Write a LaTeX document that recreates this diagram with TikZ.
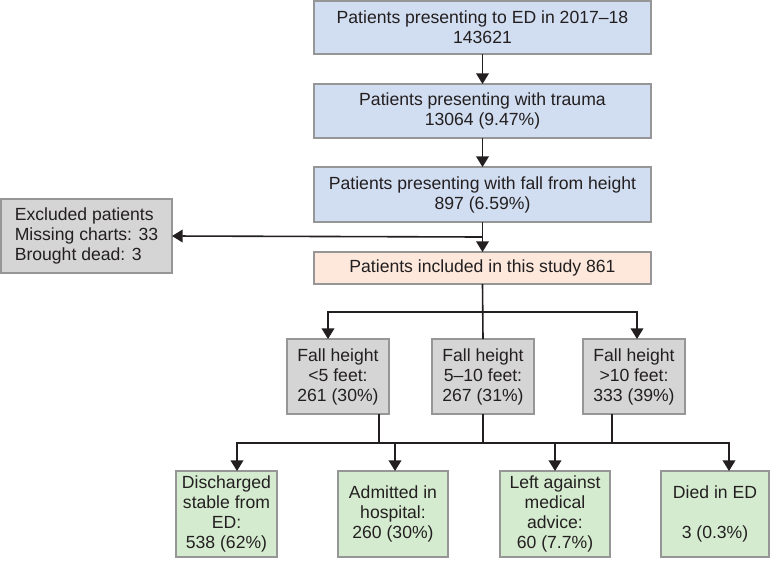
\documentclass[tikz,border=0pt]{standalone}
\usepackage{fontspec}
\setmainfont{Liberation Sans}
\usetikzlibrary{arrows.meta}
\definecolor{bluefill}{HTML}{D1DDF0}
\definecolor{peach}{HTML}{FDE8DB}
\definecolor{greyfill}{HTML}{D5D5D5}
\definecolor{greenfill}{HTML}{D5EBD0}
\definecolor{edgegray}{HTML}{969696}
\definecolor{ink}{HTML}{231F20}
\tikzset{
  bx/.style 2 args={minimum width=#1*0.75pt, minimum height=#2*0.75pt},
  box/.style={draw=edgegray, line width=1.1pt, inner sep=0pt, outer sep=0pt,
    align=center, text=ink, font=\fontsize{13.2}{15}\selectfont},
  bluebox/.style={box, fill=bluefill},
  peachbox/.style={box, fill=peach},
  greybox/.style={box, fill=greyfill},
  greenbox/.style={box, fill=greenfill},
  conn/.style={draw=ink, line width=1.2pt},
  arr/.style={conn, -{Triangle[length=8pt,width=9.5pt]}}
}
\begin{document}
\begin{tikzpicture}[x=0.75pt,y=-0.75pt]
\useasboundingbox (0,0) rectangle (770,561);
\fill[white] (0,0) rectangle (770,561);

\node[bluebox, bx={337}{53}] (b1) at (482.5,27.5) {Patients presenting to ED in 2017–18\\143621};
\node[bluebox, bx={337}{54}] (b2) at (482.5,111) {Patients presenting with trauma\\13064 (9.47\%)};
\node[bluebox, bx={337}{55}] (b3) at (482.5,194.5) {Patients presenting with fall from height\\897 (6.59\%)};
\node[greybox, bx={171}{74}, align=left] (excl) at (86.5,236) {Excluded patients\\Missing charts: 33\\Brought dead: 3};
\node[peachbox, bx={337}{32}] (incl) at (482.5,268) {Patients included in this study 861};

\node[greybox, bx={102}{75}] (fA) at (338,376.5) {Fall height\\<5 feet:\\261 (30\%)};
\node[greybox, bx={102}{75}] (fB) at (483,376.5) {Fall height\\5–10 feet:\\267 (31\%)};
\node[greybox, bx={102}{75}] (fC) at (634,376.5) {Fall height\\>10 feet:\\333 (39\%)};

\node[greenbox, bx={101}{86}] (g1) at (226.5,514) {Discharged\\stable from\\ED:\\538 (62\%)};
\node[greenbox, bx={110}{86}] (g2) at (393,514) {Admitted in\\hospital:\\260 (30\%)};
\node[greenbox, bx={110}{86}] (g3) at (555,514) {Left against\\medical\\advice:\\60 (7.7\%)};
\node[greenbox, bx={108}{86}] (g4) at (715,514) {Died in ED\\[15pt]3 (0.3\%)};

\draw[arr] (b1) -- (b2);
\draw[arr] (b2) -- (b3);
\draw[arr] (b3) -- (incl);
\coordinate (j1) at (482.5,237);
\draw[arr] (j1) -- (excl.east);

\coordinate (s1) at (483,312);
\draw[conn] (incl.south) -- (fB.north);
\draw[arr] (s1) -| ([xshift=-7.5pt]fA.north);
\draw[arr] (s1) -| ([xshift=2.25pt]fC.north);

\coordinate (h1) at (483,443);
\draw[conn] (fB.south) -- (h1);
\draw[conn] ([xshift=30.75pt]fA.south) |- (h1);
\draw[conn] ([xshift=-16.5pt]fC.south) |- (h1);
\draw[arr] (h1) -| ([xshift=7.875pt]g1.north);
\draw[arr] (h1) -| ([xshift=1.5pt]g2.north);
\draw[arr] (h1) -| (g3.north);
\draw[arr] (h1) -| ([xshift=10.5pt]g4.north);
\end{tikzpicture}
\end{document}
